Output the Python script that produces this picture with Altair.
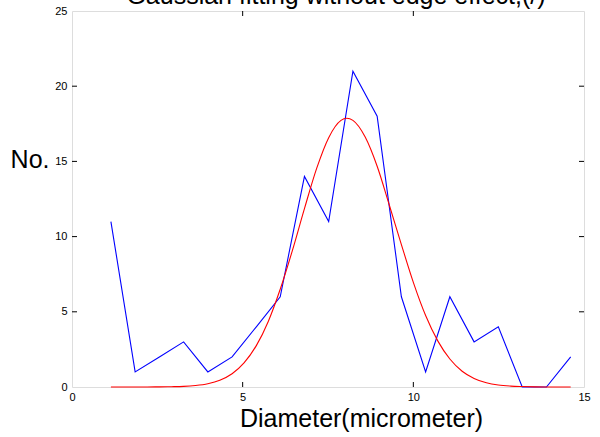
import altair as alt
import pandas as pd

# Measured particle counts per diameter bin
diam = [1.14, 1.85, 2.56, 3.27, 3.98, 4.69, 5.40, 6.10, 6.81, 7.52,
        8.23, 8.94, 9.65, 10.36, 11.07, 11.78, 12.49, 13.19, 13.90, 14.61]
count = [11, 1, 2, 3, 1, 2, 4, 6, 14, 11,
         21, 18, 6, 1, 6, 3, 4, 0, 0, 2]

# Gaussian fit curve, sampled
fit_x = [1.14, 1.49, 1.85, 2.20, 2.56, 2.91, 3.27, 3.62, 3.98, 4.33,
         4.69, 5.04, 5.40, 5.75, 6.10, 6.46, 6.81, 7.17, 7.52, 7.88,
         8.05, 8.23, 8.59, 8.94, 9.30, 9.65, 10.01, 10.36, 10.72, 11.07,
         11.43, 11.78, 12.14, 12.49, 12.85, 13.20, 13.56, 13.91, 14.27,
         14.61]
fit_y = [0.0, 0.0, 0.0, 0.0, 0.01, 0.02, 0.04, 0.10, 0.22, 0.45,
         0.88, 1.60, 2.75, 4.36, 6.50, 9.10, 11.86, 14.55, 16.58, 17.73,
         17.87, 17.73, 16.62, 14.68, 12.07, 9.47, 6.89, 4.75, 3.05, 1.86,
         1.05, 0.57, 0.28, 0.13, 0.06, 0.03, 0.01, 0.0, 0.0,
         0.0]

x_ticks = [0, 5, 10, 15]
y_ticks = [0, 5, 10, 15, 20, 25]
title_text = ["Gaussian fitting without edge effect,(/)"]

W, H = 512, 376
FONT = "Liberation Sans"
TICK = 5

data = pd.DataFrame({"d": diam, "n": count})
fit = pd.DataFrame({"d": fit_x, "n": fit_y})
xt = pd.DataFrame({"v": [v for v in x_ticks if 0 < v < 15]})
yt = pd.DataFrame({"v": [v for v in y_ticks if 0 < v < 25]})
ttl = pd.DataFrame({"t": title_text})

xscale = alt.Scale(domain=[0, 15], nice=False, zero=False)
yscale = alt.Scale(domain=[0, 25], nice=False)

x_axis = alt.Axis(
    values=x_ticks, ticks=False, domain=False, grid=False,
    labelFont=FONT, labelFontSize=11, labelColor="black", labelPadding=4,
    labelFlush=False,
    title="Diameter(micrometer)", titleFont=FONT, titleFontSize=25,
    titleFontWeight="normal", titleColor="black",
    titleX=289, titleY=39, titleAlign="center", titleBaseline="alphabetic",
)
y_axis = alt.Axis(
    values=y_ticks, ticks=False, domain=False, grid=False,
    labelFont=FONT, labelFontSize=11, labelColor="black", labelPadding=5,
    labelFlush=False,
    title="No.", titleFont=FONT, titleFontSize=25, titleFontWeight="normal",
    titleColor="black", titleAngle=0, titleX=-23, titleY=156,
    titleAlign="right", titleBaseline="alphabetic",
)

counts = alt.Chart(data).mark_line(color="#0000ff", strokeWidth=1.1).encode(
    x=alt.X("d:Q", scale=xscale, axis=x_axis),
    y=alt.Y("n:Q", scale=yscale, axis=y_axis),
)

curve = alt.Chart(fit).mark_line(
    color="#ff0000", strokeWidth=1.1, interpolate="monotone"
).encode(x=alt.X("d:Q", scale=xscale), y=alt.Y("n:Q", scale=yscale))

# Inward-pointing tick marks on all four sides of the box
tick_style = dict(color="black", strokeWidth=1)
bottom_ticks = alt.Chart(xt).mark_rule(**tick_style).encode(
    x=alt.X("v:Q", scale=xscale), y=alt.value(H), y2=alt.value(H - TICK))
top_ticks = alt.Chart(xt).mark_rule(**tick_style).encode(
    x=alt.X("v:Q", scale=xscale), y=alt.value(0), y2=alt.value(TICK))
left_ticks = alt.Chart(yt).mark_rule(**tick_style).encode(
    y=alt.Y("v:Q", scale=yscale), x=alt.value(0), x2=alt.value(TICK))
right_ticks = alt.Chart(yt).mark_rule(**tick_style).encode(
    y=alt.Y("v:Q", scale=yscale), x=alt.value(W), x2=alt.value(W - TICK))

# Title drawn as text above the box (runs past the top edge of the page)
title = alt.Chart(ttl).mark_text(
    font=FONT, fontSize=25, color="black", align="center",
    baseline="alphabetic",
).encode(text="t:N", x=alt.value(264), y=alt.value(-7))

chart = (
    alt.layer(counts, curve, bottom_ticks, top_ticks, left_ticks,
              right_ticks, title)
    .properties(
        width=W, height=H,
        autosize=alt.AutoSizeParams(type="none"),
        padding={"left": 72, "top": 11, "right": 16, "bottom": 50},
    )
    .configure_view(stroke="black", strokeWidth=1)
    .configure(background="white")
)

chart.save("out.html", embed_options={"renderer": "svg", "actions": False})
